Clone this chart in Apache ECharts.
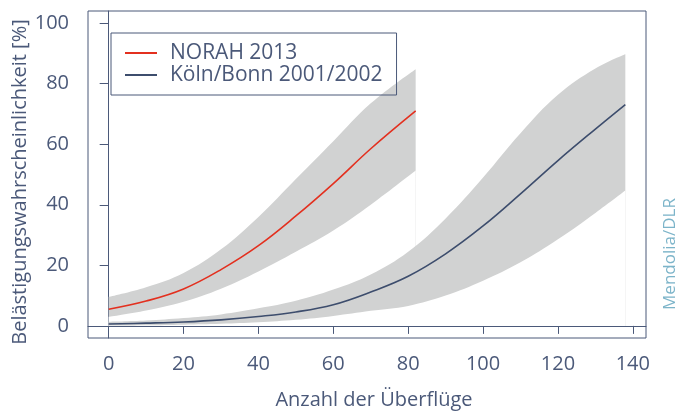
<!DOCTYPE html>
<html>
<head>
<meta charset="utf-8">
<script src="https://cdn.jsdelivr.net/npm/echarts@6/dist/echarts.min.js"></script>
<style>
  html, body { margin: 0; padding: 0; background: #fff; }
  #chart { width: 680px; height: 412px; }
</style>
</head>
<body>
<div id="chart"></div>
<script>
// Werte
let noraX   = [0, 10, 20, 30, 40, 50, 60, 70, 82]
let noraMid = [5.5, 8.2, 12.2, 18.6, 26.5, 36.3, 47, 58.5, 71]
let noraLo  = [3.0, 5.1, 8.0, 12.3, 18, 24.5, 31.5, 40, 51.3]
let noraHi  = [9.6, 12.8, 17.5, 25.3, 36, 48.5, 61, 73.5, 84.8]

let kbX   = [0, 10, 20, 30, 40, 50, 60, 70, 80, 90, 100, 110, 120, 130, 138]
let kbMid = [0.6, 0.9, 1.3, 2.0, 3.1, 4.6, 7.0, 11.2, 16.4, 23.8, 33, 43.6, 54.6, 65, 73.1]
let kbLo  = [0.1, 0.2, 0.4, 0.7, 1.2, 2.0, 3.3, 5.0, 6.6, 10, 14.9, 21, 28.6, 37.3, 44.7]
let kbHi  = [1.4, 1.8, 2.6, 3.8, 5.8, 8.3, 12, 17, 24.5, 35.5, 49, 63.6, 76.3, 85, 89.7]

let xTicks = [0, 20, 40, 60, 80, 100, 120, 140]
let yTicks = [0, 20, 40, 60, 80, 100]

let names = ['NORAH 2013', 'Köln/Bonn 2001/2002']

let axisColor = '#4b5979'
let bandColor = '#d1d2d2'
let redColor = '#e3301f'
let navyColor = '#3d4d6d'
let font = '"Open Sans", sans-serif'

function pairs(xs, ys) {
	return xs.map((x, i) => [x, ys[i]])
}

// Band: Obergrenze grau gefüllt, darunter Untergrenze weiß abgedeckt
function band(xs, lo, hi) {
	return [
		{
			type: 'line', smooth: 0.4, symbol: 'none', silent: true,
			lineStyle: { width: 0, opacity: 0 }, z: 1,
			areaStyle: { color: bandColor, opacity: 1 },
			data: pairs(xs, hi)
		},
		{
			type: 'line', smooth: 0.4, symbol: 'none', silent: true,
			lineStyle: { width: 0, opacity: 0 }, z: 1,
			areaStyle: { color: '#ffffff', opacity: 1 },
			data: pairs(xs, lo)
		}
	]
}

let chart = echarts.init(document.getElementById('chart'))
let option = {
	animation: false,
	grid: {
		left: 88, right: 34, top: 11, bottom: 74,
		show: true, borderColor: axisColor, borderWidth: 1
	},
	legend: {
		data: names,
		orient: 'vertical',
		left: 111, top: 33,
		padding: [9, 14, 9, 14],
		itemGap: 0,
		itemWidth: 32, itemHeight: 2,
		icon: 'rect',
		borderColor: axisColor, borderWidth: 1,
		textStyle: { color: axisColor, fontSize: 21, fontFamily: font, lineHeight: 22, padding: [0, 0, 0, 8] }
	},
	xAxis: {
		type: 'value', min: -5.52, max: 143.52,
		axisLine: { show: true, lineStyle: { color: axisColor } },
		axisTick: { show: true, length: 8, customValues: xTicks, lineStyle: { color: axisColor } },
		axisLabel: { customValues: xTicks, color: axisColor, fontSize: 20, fontFamily: font, margin: 16 },
		splitLine: { show: false }
	},
	yAxis: {
		type: 'value', min: -4, max: 104,
		axisLine: { show: true, lineStyle: { color: axisColor } },
		axisTick: { show: true, length: 9, customValues: yTicks, lineStyle: { color: axisColor } },
		axisLabel: { customValues: yTicks, color: axisColor, fontSize: 20, fontFamily: font, margin: 19 },
		splitLine: { show: false }
	},
	graphic: [
		{
			type: 'text', x: 20, y: 182, rotation: Math.PI / 2,
			style: { text: 'Belästigungswahrscheinlichkeit [%]', fill: axisColor, font: '20px ' + font, align: 'center', verticalAlign: 'middle' }
		},
		{
			type: 'text', x: 374, y: 400,
			style: { text: 'Anzahl der Überflüge', fill: axisColor, font: '20px ' + font, align: 'center', verticalAlign: 'middle' }
		},
		{
			type: 'text', x: 670, y: 254, rotation: Math.PI / 2,
			style: { text: 'Mendolia/DLR', fill: '#7cb4c9', font: '17px ' + font, align: 'center', verticalAlign: 'middle' }
		}
	],
	series: [
		...band(noraX, noraLo, noraHi),
		...band(kbX, kbLo, kbHi),
		{
			name: names[0], type: 'line', smooth: 0.4, symbol: 'none', z: 3,
			color: redColor, lineStyle: { color: redColor, width: 1.6 },
			data: pairs(noraX, noraMid)
		},
		{
			name: names[1], type: 'line', smooth: 0.4, symbol: 'none', z: 3,
			color: navyColor, lineStyle: { color: navyColor, width: 1.6 },
			data: pairs(kbX, kbMid)
		}
	]
}
chart.setOption(option)
</script>
</body>
</html>
